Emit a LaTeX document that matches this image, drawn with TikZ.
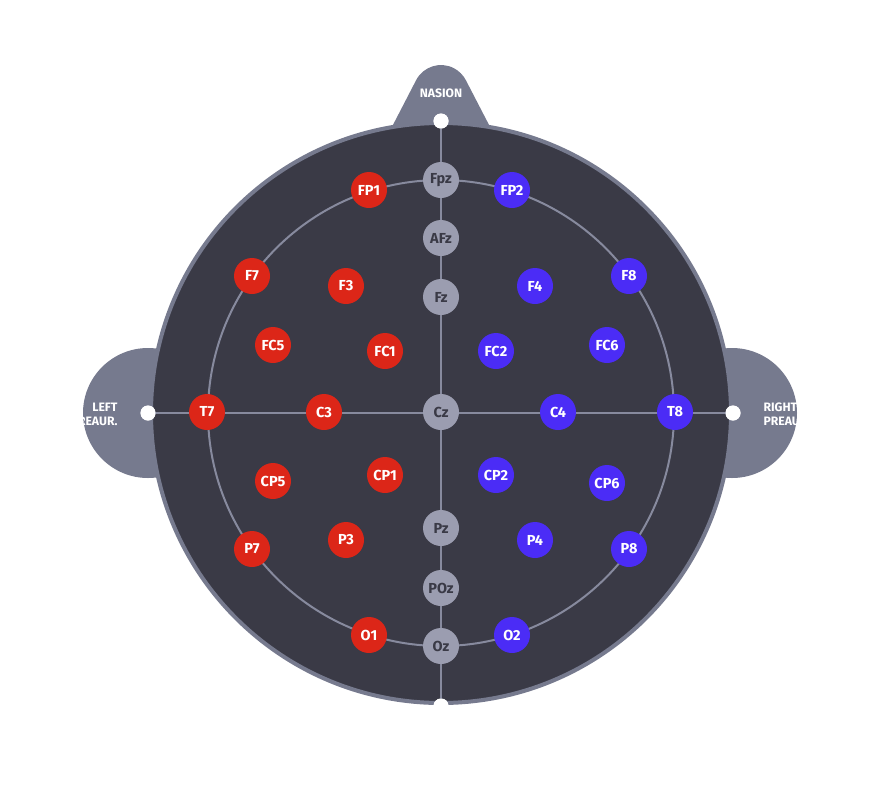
\documentclass[tikz,border=0pt]{standalone}
\usepackage{fontspec}
\setmainfont{Fira Sans}
\begin{document}
\begin{tikzpicture}[x=1pt,y=-1pt,
  ear/.style={fill=earc},
  dot/.style={circle,fill=white,inner sep=0pt,minimum size=15pt},
  el/.style={circle,inner sep=0pt,minimum size=36pt,font=\fontsize{14.5}{15}\selectfont\bfseries,text=white},
  red/.style={el,fill=redc},
  blue/.style={el,fill=bluec},
  mid/.style={el,fill=grayc,text=headc},
  earlbl/.style={font=\fontsize{12.2}{14}\selectfont\bfseries,text=white},
  guide/.style={draw=linec,line width=2pt}
]
\definecolor{earc}{HTML}{767A8E}
\definecolor{headc}{HTML}{3A3A46}
\definecolor{linec}{HTML}{878A9E}
\definecolor{redc}{HTML}{DC2618}
\definecolor{bluec}{HTML}{4B2CF6}
\definecolor{grayc}{HTML}{9B9DB0}
\useasboundingbox (0,0) rectangle (881,801);
% ears
\fill[ear] (148,413) circle (65);
\fill[ear] (732,413) circle (65);
\begin{scope}
  \clip (148,413) circle (65);
  \node[earlbl,align=right,anchor=east] (ltxt) at (121,414) {LEFT\\PREAUR.};
\end{scope}
\begin{scope}
  \clip (732,413) circle (65);
  \node[earlbl,align=left,anchor=west] (rtxt) at (760,414) {RIGHT\\PREAUR.};
\end{scope}
% nose
\fill[ear] (386,138.4) -- (416.1,80.2) arc[start angle=207.3,end angle=332.7,radius=28] -- (496,138.4) -- cycle;
\node[earlbl] (nasion) at (441,93) {NASION};
% head
\filldraw[fill=headc,draw=earc,line width=4pt] (441,413) circle (290);
% guides
\node[dot] (dn) at (441,121) {};
\node[dot] (ds) at (441,706) {};
\node[dot] (dl) at (148,413) {};
\node[dot] (dr) at (733,413) {};
\draw[guide] (dn.center) -- (ds.center);
\draw[guide] (dl.center) -- (dr.center);
\draw[guide] (441,413) circle (233);
\node[dot] at (441,121) {};
\node[dot] at (441,706) {};
\node[dot] at (148,413) {};
\node[dot] at (733,413) {};
% midline
\node[mid] (Fpz) at (441,180) {Fpz};
\node[mid] (AFz) at (441,238) {AFz};
\node[mid] (Fz) at (441,297) {Fz};
\node[mid] (Cz) at (441,412) {Cz};
\node[mid] (Pz) at (441,528) {Pz};
\node[mid] (POz) at (441,588) {POz};
\node[mid] (Oz) at (441,646) {Oz};
% left
\node[red] (FP1) at (369,190) {FP1};
\node[red] (F7) at (252,276) {F7};
\node[red] (F3) at (346,286) {F3};
\node[red] (FC5) at (273,345) {FC5};
\node[red] (FC1) at (385,351) {FC1};
\node[red] (T7) at (207,412) {T7};
\node[red] (C3) at (324,412) {C3};
\node[red] (CP5) at (273,481) {CP5};
\node[red] (CP1) at (385,475) {CP1};
\node[red] (P7) at (252,549) {P7};
\node[red] (P3) at (346,540) {P3};
\node[red] (O1) at (369,635) {O1};
% right
\node[blue] (FP2) at (512,190) {FP2};
\node[blue] (F8) at (629,276) {F8};
\node[blue] (F4) at (535,286) {F4};
\node[blue] (FC6) at (607,345) {FC6};
\node[blue] (FC2) at (496,351) {FC2};
\node[blue] (T8) at (675,412) {T8};
\node[blue] (C4) at (558,412) {C4};
\node[blue] (CP6) at (607,483) {CP6};
\node[blue] (CP2) at (496,475) {CP2};
\node[blue] (P8) at (629,549) {P8};
\node[blue] (P4) at (535,540) {P4};
\node[blue] (O2) at (512,635) {O2};
\end{tikzpicture}
\end{document}
